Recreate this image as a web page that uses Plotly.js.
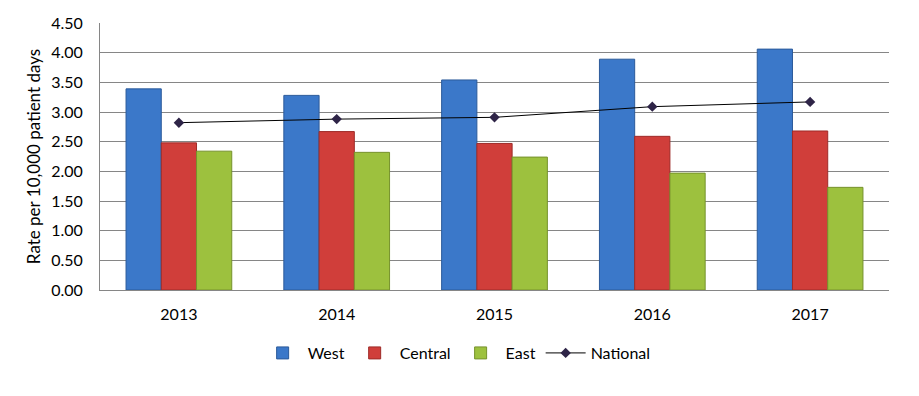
<!DOCTYPE html>
<html>
<head>
<meta charset="utf-8">
<script src="https://cdn.plot.ly/plotly-3.0.1.min.js"></script>
<style>html,body{margin:0;padding:0;background:#fff;}#chart{width:919px;height:396px;}</style>
</head>
<body>
<div id="chart"></div>
<script>
const years = ["2013", "2014", "2015", "2016", "2017"];
const west = [3.39, 3.28, 3.54, 3.89, 4.06];
const central = [2.48, 2.67, 2.47, 2.59, 2.68];
const east = [2.34, 2.32, 2.24, 1.97, 1.73];
const national = [2.82, 2.88, 2.91, 3.09, 3.17];
const yTicks = [0, 0.5, 1, 1.5, 2, 2.5, 3, 3.5, 4, 4.5];

const font = "Lato, 'Open Sans', sans-serif";

const traces = [
  {type: "bar", name: "West", x: years, y: west,
   marker: {color: "#3B78C9", line: {color: "#2B5A9A", width: 1}}},
  {type: "bar", name: "Central", x: years, y: central,
   marker: {color: "#D03E3A", line: {color: "#9E2B28", width: 1}}},
  {type: "bar", name: "East", x: years, y: east,
   marker: {color: "#9DC13E", line: {color: "#76922C", width: 1}}},
  {type: "scatter", mode: "lines+markers", name: "National", x: years, y: national,
   line: {color: "#000000", width: 1},
   marker: {symbol: "diamond", size: 8, color: "#2E2447"}}
];

const layout = {
  width: 919, height: 396,
  margin: {l: 100, r: 30, t: 23, b: 106},
  paper_bgcolor: "#ffffff", plot_bgcolor: "#ffffff",
  barmode: "group", bargap: 0.33, bargroupgap: 0,
  font: {family: font, size: 16, color: "#000"},
  xaxis: {
    type: "category", showline: true, linecolor: "#868686", linewidth: 1,
    ticks: "", ticklabelstandoff: 10,
    tickfont: {family: font, size: 16, color: "#000"}, showgrid: false
  },
  yaxis: {
    range: [0, 4.5], tickvals: yTicks, tickformat: ".2f",
    showgrid: true, gridcolor: "#868686", gridwidth: 1,
    showline: true, linecolor: "#868686", linewidth: 1, zeroline: false,
    ticks: "", ticklabelstandoff: 13, tickfont: {family: font, size: 16, color: "#000"},
    title: {text: "Rate per 10,000 patient days", font: {family: font, size: 17, color: "#000"}, standoff: 6}
  },
  legend: {
    orientation: "h", x: 0.452, xanchor: "center", y: -0.236, yanchor: "middle",
    font: {family: font, size: 16, color: "#000"}, itemwidth: 40, traceorder: "normal"
  },
  showlegend: true
};

Plotly.newPlot("chart", traces, layout, {displayModeBar: false, staticPlot: true});
</script>
</body>
</html>
